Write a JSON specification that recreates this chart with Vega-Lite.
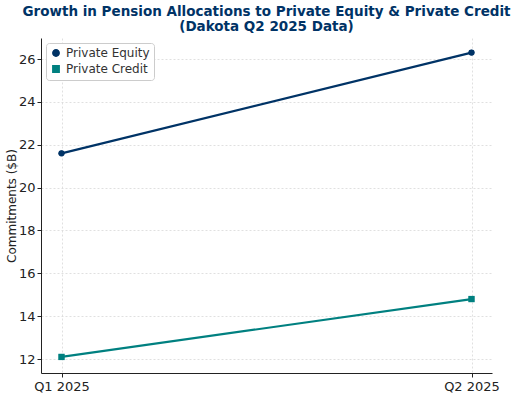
{
  "$schema": "https://vega.github.io/schema/vega-lite/v6.json",
  "width": 451,
  "height": 335,
  "autosize": {"type": "none"},
  "padding": {"left": 41, "top": 38, "right": 20, "bottom": 23},
  "background": "white",
  "title": {
    "text": ["Growth in Pension Allocations to Private Equity & Private Credit", "(Dakota Q2 2025 Data)"],
    "font": "DejaVu Sans",
    "fontSize": 13.5,
    "fontWeight": "bold",
    "color": "#003366",
    "anchor": "middle",
    "offset": 5,
    "lineHeight": 15
  },
  "data": {
    "values": [
      {"quarter": "Q1 2025", "series": "Private Equity", "value": 21.6},
      {"quarter": "Q2 2025", "series": "Private Equity", "value": 26.3},
      {"quarter": "Q1 2025", "series": "Private Credit", "value": 12.1},
      {"quarter": "Q2 2025", "series": "Private Credit", "value": 14.8}
    ]
  },
  "config": {
    "font": "DejaVu Sans",
    "view": {"stroke": null},
    "axis": {
      "labelFont": "DejaVu Sans",
      "labelFontSize": 13,
      "labelColor": "#222",
      "titleFont": "DejaVu Sans",
      "titleFontSize": 12,
      "titleFontWeight": "normal",
      "titleColor": "#222",
      "domainColor": "#222",
      "tickColor": "#222",
      "tickSize": 4,
      "gridColor": "#d8d8d8",
      "gridDash": [2, 2],
      "gridWidth": 0.8
    }
  },
  "encoding": {
    "x": {
      "field": "quarter",
      "type": "ordinal",
      "sort": ["Q1 2025", "Q2 2025"],
      "scale": {"type": "point", "padding": 0.05},
      "axis": {"title": null, "labelAngle": 0, "grid": true, "labelPadding": 3}
    },
    "y": {
      "field": "value",
      "type": "quantitative",
      "scale": {"domain": [11.35, 26.98], "nice": false, "zero": false},
      "axis": {"title": "Commitments ($B)", "values": [12, 14, 16, 18, 20, 22, 24, 26], "grid": true, "titlePadding": 0, "labelPadding": 2}
    },
    "color": {
      "field": "series",
      "type": "nominal",
      "sort": ["Private Equity", "Private Credit"],
      "scale": {"domain": ["Private Equity", "Private Credit"], "range": ["#003366", "#008080"]},
      "legend": {
        "title": null,
        "orient": "top-left",
        "offset": 5,
        "padding": 4,
        "strokeColor": "#cccccc",
        "fillColor": "white",
        "cornerRadius": 3,
        "labelFont": "DejaVu Sans",
        "labelFontSize": 12,
        "labelColor": "#333",
        "symbolSize": 40,
        "rowPadding": 2
      }
    },
    "shape": {
      "field": "series",
      "type": "nominal",
      "sort": ["Private Equity", "Private Credit"],
      "scale": {"domain": ["Private Equity", "Private Credit"], "range": ["circle", "square"]},
      "legend": null
    }
  },
  "layer": [
    {"mark": {"type": "line", "strokeWidth": 2.2}},
    {"mark": {"type": "point", "filled": true, "size": 40, "opacity": 1}}
  ]
}
